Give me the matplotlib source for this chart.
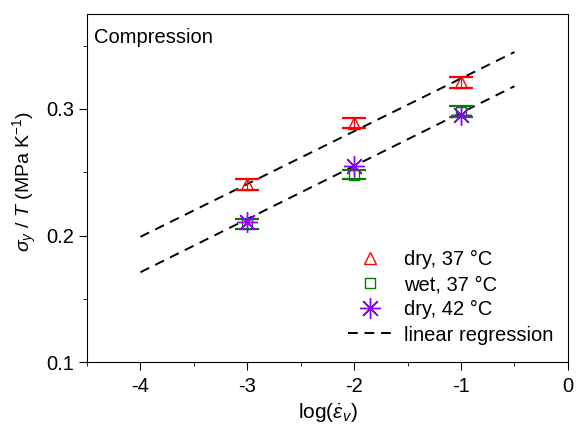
import matplotlib.pyplot as plt
from matplotlib.ticker import MultipleLocator
import numpy as np

plt.rcParams['font.family'] = ['Liberation Sans', 'DejaVu Sans']
plt.rcParams['mathtext.fontset'] = 'custom'
plt.rcParams['mathtext.it'] = 'Liberation Sans:italic'
plt.rcParams['mathtext.rm'] = 'Liberation Sans'

log_rate = [-3, -2, -1]

dry37 = [0.2405, 0.289, 0.321]
dry37_err = [0.0045, 0.004, 0.0045]
wet37 = [0.209, 0.248, 0.298]
wet37_err = [0.004, 0.0035, 0.004]
dry42 = [0.211, 0.255, 0.295]

reg_x = [-4, -0.5]
reg_upper = [0.199, 0.345]
reg_lower = [0.171, 0.318]

fig = plt.figure(figsize=(5.76, 4.26), dpi=100)
ax = fig.add_axes([0.151, 0.150, 0.835, 0.817])

ax.plot(reg_x, reg_upper, ls=(0, (5, 3.5)), color='black', lw=1.4)
l4, = ax.plot(reg_x, reg_lower, ls=(0, (5, 3.5)), color='black', lw=1.4)

ax.errorbar(log_rate, dry37, yerr=dry37_err, fmt='none', ecolor='red',
            elinewidth=0.8, capsize=8.5, capthick=1.6)
l1, = ax.plot(log_rate, dry37, ls='none', marker='^', mfc='none', mec='red',
              ms=8, mew=1)
ax.errorbar(log_rate, wet37, yerr=wet37_err, fmt='none', ecolor='green',
            elinewidth=0.8, capsize=8.5, capthick=1.6)
l2, = ax.plot(log_rate, wet37, ls='none', marker='s', mfc='none', mec='green',
              ms=6.5, mew=1)
l3, = ax.plot(log_rate, dry42, ls='none', marker=(8, 2, 0), color='#8a2be2',
              mec='#8f00ff', ms=15, mew=1)

ax.set_xlim(-4.5, 0)
ax.set_ylim(0.1, 0.375)
ax.set_xticks([-4, -3, -2, -1, 0])
ax.set_xticklabels(['-4', '-3', '-2', '-1', '0'])
ax.set_yticks([0.1, 0.2, 0.3])
ax.xaxis.set_minor_locator(MultipleLocator(0.5))
ax.yaxis.set_minor_locator(MultipleLocator(0.05))
ax.tick_params(which='both', direction='out', labelsize=14.5, top=False, right=False)
ax.tick_params(which='major', length=6)
ax.tick_params(which='minor', length=3)
ax.tick_params(axis='x', pad=5)

ax.set_xlabel(r'log($\dot{\varepsilon}_v$)', fontsize=15, labelpad=3)
ax.set_ylabel(r'$\sigma_y$ / $T$ (MPa K$^{\mathregular{-1}}$)', fontsize=14)
ax.yaxis.set_label_coords(-0.1, 0.52)

ax.text(0.0145, 0.934, 'Compression', transform=ax.transAxes, fontsize=14.5,
        va='center', ha='left')

ax.legend([l1, l2, l3, l4], ['dry, 37 °C', 'wet, 37 °C', 'dry, 42 °C', 'linear regression'],
          loc='lower right', frameon=False, fontsize=14.5, handlelength=2.2,
          handletextpad=0.6, labelspacing=0.3, borderaxespad=0.3,
          bbox_to_anchor=(1.0, 0.01))

fig.savefig('out.png', dpi=100)
